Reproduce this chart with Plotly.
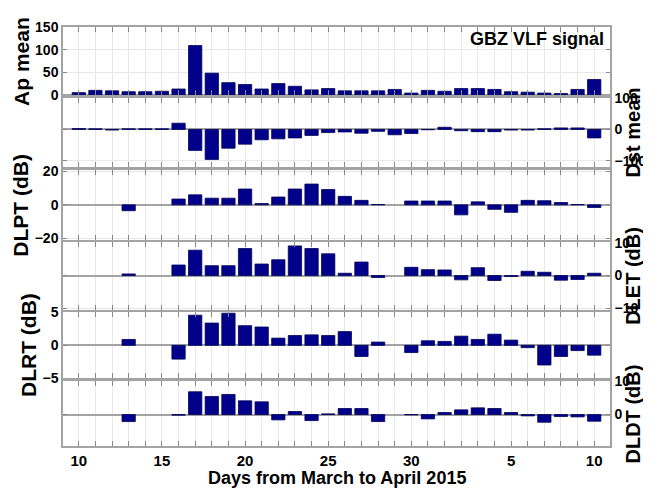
import plotly.graph_objects as go
from plotly.subplots import make_subplots

# days from 10 March to 10 April 2015
day_labels = [str(d) for d in range(10, 32)] + [str(d) for d in range(1, 11)]
day_index = list(range(len(day_labels)))

ap_mean = [5, 10, 9, 7, 7, 8, 13, 109, 48, 27, 23, 13, 25, 19, 11, 14,
           9, 9, 9, 12, 4, 10, 8, 14, 14, 12, 7, 6, 4, 3, 12, 34]
dst_mean = [3, 2, -2, 2, 2, 2, 20, -67, -96, -60, -47, -33, -30, -27, -19, -10,
            -8, -12, -6, -17, -13, -1, 7, -4, -7, -7, -2, -2, 2, 5, 5, -27]
dlpt = [None, None, None, -3.5, None, None, 3.5, 6, 4, 4, 9.5, 0.8, 4.7, 9.5, 12.5, 9.2,
        5.1, 2.7, 0.2, None, 2.3, 2.3, 2.3, -6, 1.8, -2.7, -4.5, 2.7, 2.5, 1.4, 0.2, -1.6]
dlet = [None, None, None, 0.5, None, None, 3.2, 7.7, 3.0, 3.0, 8.2, 3.5, 4.8, 9.0, 8.2, 6.6,
        0.7, 4.1, -0.6, None, 2.5, 1.8, 1.7, -1.3, 2.4, -1.5, -0.3, 1.3, 1.0, -1.4, -1.2, 0.7]
dlrt = [None, None, None, 0.9, None, None, -2.1, 4.6, 3.4, 4.9, 3.0, 2.8, 1.1, 1.5, 1.6, 1.5,
        2.1, -1.7, 0.5, None, -1.1, 0.7, 0.6, 1.4, 0.9, 1.7, 0.8, -0.35, -3.0, -1.7, -0.8, -1.5]
dldt = [None, None, None, -2.1, None, None, -0.2, 6.8, 5.4, 6.0, 4.1, 3.8, -1.6, 0.9, -1.8, 0.2,
        1.8, 1.8, -2.1, None, -0.1, -1.3, 0.6, 1.4, 2.0, 1.8, 0.6, -0.4, -2.3, -0.6, -0.7, -2.0]

panels = [
    ("Ap mean", ap_mean, "left", [0, 150], [0, 50, 100, 150]),
    ("Dst mean", dst_mean, "right", [-120, 100], [-100, 0, 100]),
    ("DLPT (dB)", dlpt, "left", [-21, 21], [-20, 0, 20]),
    ("DLET (dB)", dlet, "right", [-10.4, 10.2], [-10, 0, 10]),
    ("DLRT (dB)", dlrt, "left", [-5, 5.1], [-5, 0, 5]),
    ("DLDT (dB)", dldt, "right", [-9.4, 10], [-10, 0, 10]),
]
domains = [[0.838, 1.0], [0.666, 0.830], [0.492, 0.659],
           [0.325, 0.487], [0.162, 0.320], [0.0, 0.155]]
# horizontal position of each rotated axis label, in paper units
label_x = [-0.075, 1.042, -0.077, 1.042, -0.064, 1.042]

font_family = "Liberation Sans, Arial, sans-serif"
frame = "#a3a3a3"
grid = "#e8e8e8"

fig = make_subplots(rows=6, cols=1, shared_xaxes=True)

tick_text = [lab if int(lab) % 5 == 0 else "" for lab in day_labels]

for i, (label, values, side, yr, yticks) in enumerate(panels, start=1):
    fig.add_trace(
        go.Bar(x=day_index, y=values, width=0.8,
               marker=dict(color="#00008b", line=dict(color="#00005a", width=0.8)),
               showlegend=False),
        row=i, col=1,
    )
    fig.update_yaxes(
        row=i, col=1, domain=domains[i - 1], side=side, range=yr, automargin=False,
        tickvals=yticks, ticks="inside", ticklen=4, tickcolor="#888888",
        showline=True, mirror="ticks", linecolor=frame, linewidth=1.5,
        showgrid=True, gridcolor=grid, zeroline=True, zerolinecolor=frame, zerolinewidth=1.5,
        tickfont=dict(family=font_family, size=14, color="black", weight="bold"),
    )
    fig.update_xaxes(
        row=i, col=1, range=[-0.95, 31.95], tickvals=day_index, ticktext=tick_text,
        automargin=False, ticks="inside", ticklen=5, tickcolor="#888888",
        showline=True, mirror="ticks", linecolor=frame, linewidth=1.5,
        showgrid=True, gridcolor=grid, zeroline=False,
        showticklabels=(i == 6),
        tickfont=dict(family=font_family, size=15, color="black", weight="bold"),
    )
    dom = domains[i - 1]
    fig.add_annotation(
        text=label, xref="paper", yref="paper", x=label_x[i - 1], y=(dom[0] + dom[1]) / 2,
        xanchor="center", yanchor="middle", textangle=-90, showarrow=False,
        font=dict(family=font_family, size=20 if side == "right" else 21,
                  color="black", weight="bold"),
    )

fig.add_annotation(
    text="Days from March to April 2015", xref="paper", yref="paper", x=0.5, y=-0.077,
    xanchor="center", yanchor="middle", showarrow=False,
    font=dict(family=font_family, size=18, color="black", weight="bold"),
)

fig.add_annotation(
    text="GBZ VLF signal", xref="paper", yref="paper", x=0.993, y=0.972,
    xanchor="right", yanchor="middle", showarrow=False,
    font=dict(family=font_family, size=18, color="black", weight="bold"),
)

fig.update_layout(
    width=651, height=488,
    margin=dict(l=55, r=49, t=19, b=50),
    plot_bgcolor="white", paper_bgcolor="white",
    bargap=0.2,
)

fig.write_html("out.html")
